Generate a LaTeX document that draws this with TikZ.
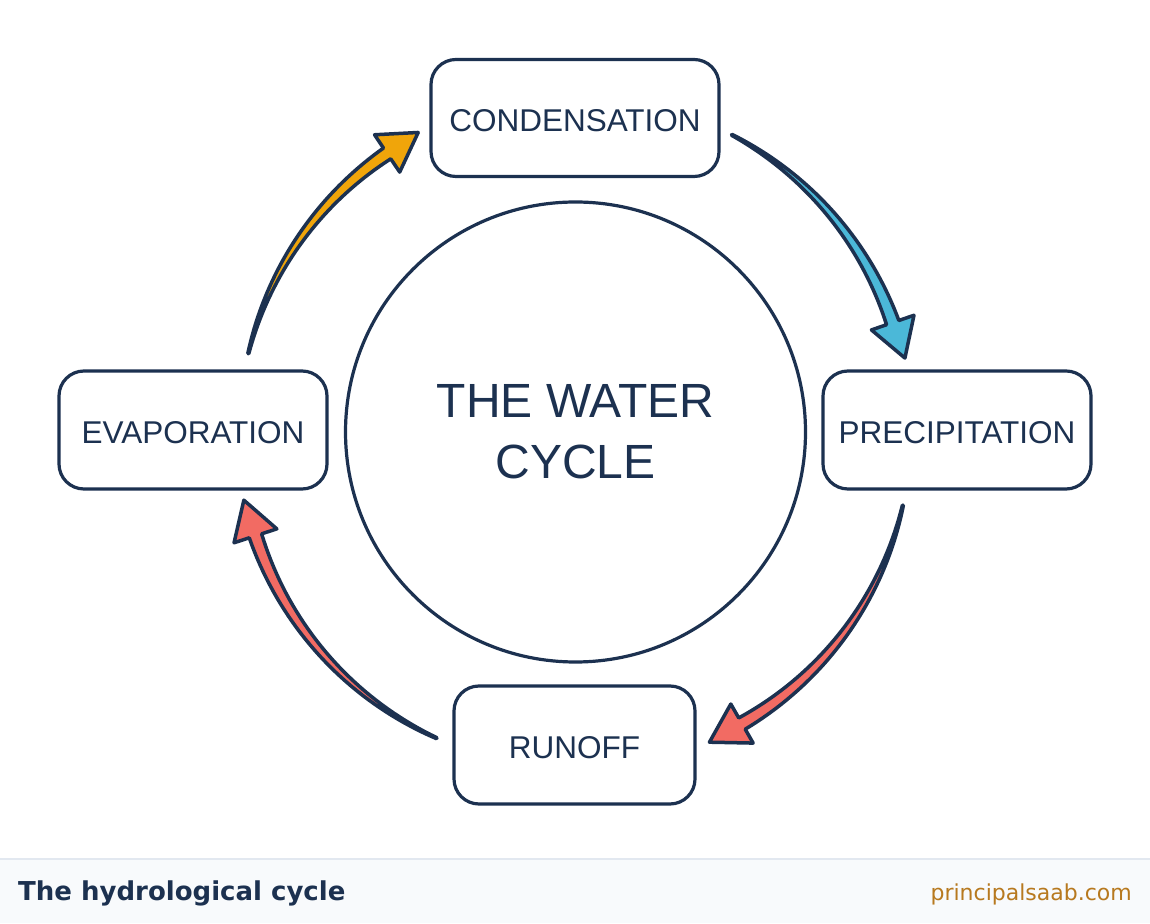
\documentclass[tikz,border=0pt]{standalone}
\usepackage{fontspec}
\setmainfont{Liberation Sans}
\newfontfamily\footfont{DejaVu Sans}
\definecolor{navy}{HTML}{1C3150}
\definecolor{evap}{HTML}{F0A50A}
\definecolor{cond}{HTML}{4BB8D8}
\definecolor{rain}{HTML}{F26B63}
\definecolor{footbg}{HTML}{F8FAFC}
\definecolor{footline}{HTML}{E2E8F0}
\definecolor{sitecol}{HTML}{B7791F}
\tikzset{
  stage/.style={draw=navy, line width=3.2pt, rounded corners=25pt, fill=white,
    text=navy, font=\fontsize{31.5}{36}\selectfont, inner sep=0pt,
    text height=27pt, text depth=0pt},
  hub/.style={draw=navy, line width=3.2pt, circle, minimum size=460pt, inner sep=0pt,
    text=navy, align=center, font=\fontsize{48}{61}\selectfont},
  arrowline/.style={draw=navy, line width=3.5pt, line join=round},
}
% tapered curved arrow: #1 tail angle, #2 tip angle, #3 fill colour
\newcommand\taparrow[3]{%
  \pgfmathsetmacro\ab{#2+6.4}%
  \filldraw[arrowline, fill=#3]
    plot[domain=#1:\ab, samples=40, variable=\q]
      ({575+(336+(1+12*(\q-(#1))/(\ab-(#1)))/2)*cos(\q)},
       {491+(336+(1+12*(\q-(#1))/(\ab-(#1)))/2)*sin(\q)})
    -- ({575+358.5*cos(\ab)},{491+358.5*sin(\ab)})
    -- ({575+336*cos(\ab)+37.5*sin(\ab)},{491+336*sin(\ab)-37.5*cos(\ab)})
    -- ({575+313.5*cos(\ab)},{491+313.5*sin(\ab)})
    -- plot[domain=\ab:#1, samples=40, variable=\q]
      ({575+(336-(1+12*(\q-(#1))/(\ab-(#1)))/2)*cos(\q)},
       {491+(336-(1+12*(\q-(#1))/(\ab-(#1)))/2)*sin(\q)})
    -- cycle;
}
\begin{document}
\begin{tikzpicture}[x=1pt,y=1pt]
\useasboundingbox (0,0) rectangle (1150,923);
\fill[white] (0,0) rectangle (1150,923);
% footer
\fill[footbg] (0,0) rectangle (1150,64);
\draw[footline, line width=1.5pt] (0,64) -- (1150,64);
\node[anchor=base west, text=navy, font=\footfont\bfseries\fontsize{26}{30}\selectfont, inner sep=0pt] (title) at (18,23) {The hydrological cycle};
\node[anchor=base east, text=sitecol, font=\footfont\fontsize{22}{26}\selectfont, inner sep=0pt] (site) at (1132,23) {principalsaab.com};
% hub
\node[hub] (hub) at (575.5,491) {THE WATER\\CYCLE};
% stages
\node[stage, minimum width=288pt, minimum height=117pt] (cond) at (575,805) {CONDENSATION};
\node[stage, minimum width=268pt, minimum height=118pt] (evap) at (193,493) {EVAPORATION};
\node[stage, minimum width=268pt, minimum height=118pt] (prec) at (957,493) {PRECIPITATION};
\node[stage, minimum width=241pt, minimum height=118pt] (run) at (574.5,178) {RUNOFF};
% arrows
\taparrow{166.5}{117.6}{evap}
\taparrow{62.2}{12.6}{cond}
\taparrow{-12.6}{-66.6}{rain}
\taparrow{245.7}{191.6}{rain}
\end{tikzpicture}
\end{document}
